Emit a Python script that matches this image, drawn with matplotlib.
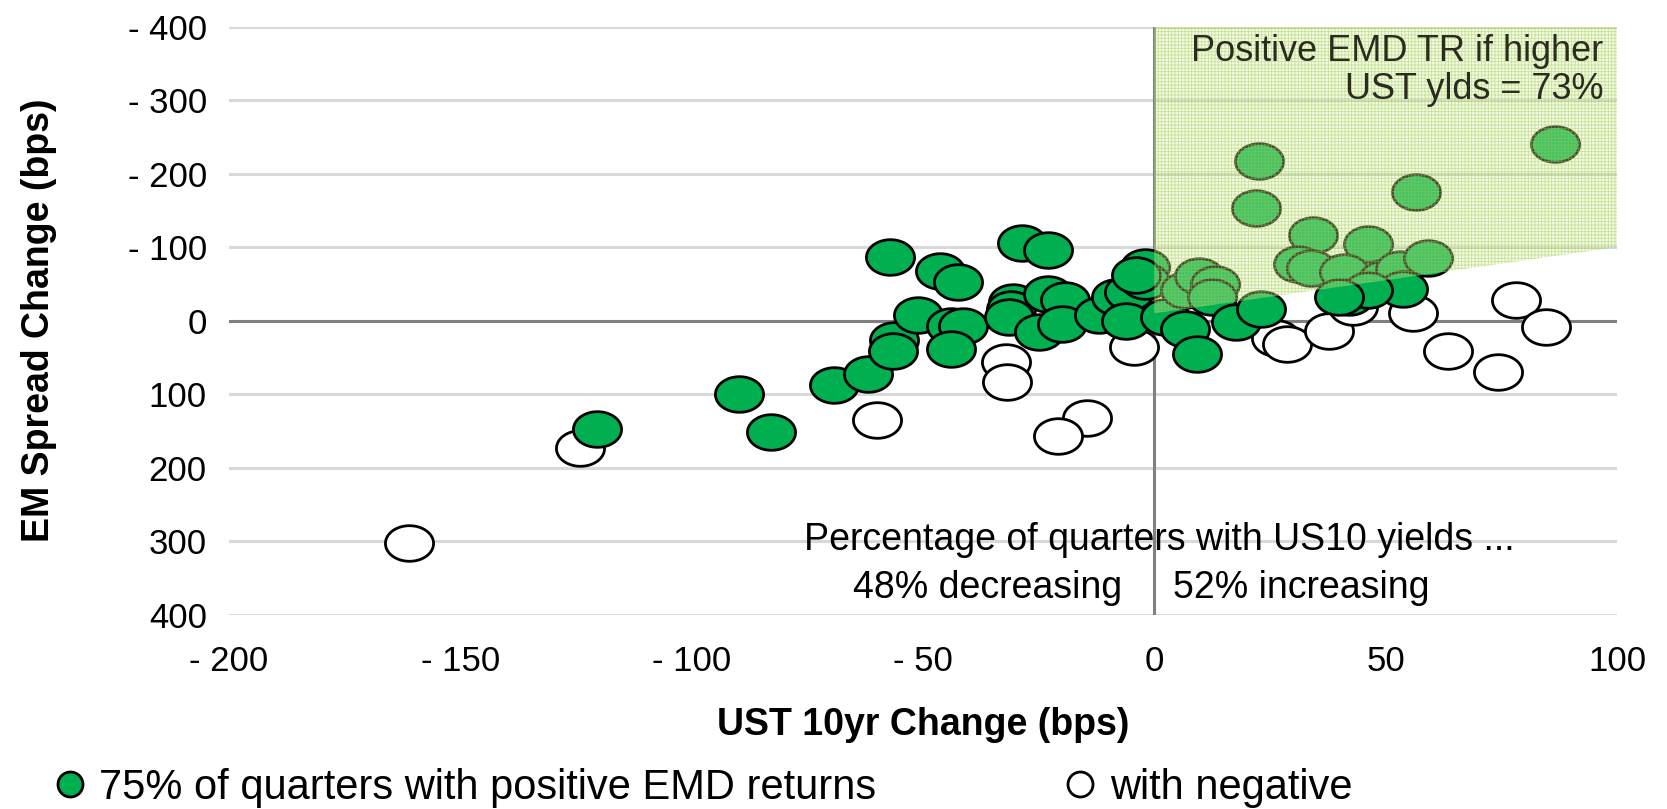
import numpy as np
import matplotlib
matplotlib.use("Agg")
import matplotlib.pyplot as plt
from matplotlib.path import Path
from matplotlib.lines import Line2D

plt.rcParams['font.family'] = ['Liberation Sans', 'DejaVu Sans']
plt.rcParams['hatch.linewidth'] = 0.6

# quarters with positive EMD returns (UST 10yr change, EM spread change), bps
pos_x = [-120.5, -89.7, -82.8, -69.2, -61.8, -56.3, -56.4,
         -57.2, -51.0, -46.4, -42.4, -44.0, -41.4, -44.0,
         -28.7, -23.0, -30.5, -31.0, -31.5, -23.0, -19.3, -25.0, -20.0,
         -12.0, -8.3, -5.4, -6.1, -2.0, -2.1, -4.0,
         2.4, 6.7, 9.6, 13.2, 12.5, 6.7, 9.2, 17.6, 23.0,
         22.6, 21.9, 34.2, 31.0, 33.8, 46.2, 41.1, 49.4, 53.0, 59.2,
         56.5, 86.5, 53.7, 42.0, 46.2, 40.0]
pos_y = [148, 100, 151, 88, 72, 27, 41,
         -86, -8, -67, -52, 7, 7, 38,
         -106, -96, -25, -16, -5, -36, -28, 16, 4.5,
         -8, -32, -39, 0, -73, -54, -62,
         -4.5, -41, -61, -50, -32, 11, 45, 2.3, -16,
         -217, -153, -116, -77, -72, -104, -66, -57, -70, -85,
         -175, -241, -43, -32, -41, -32]

# quarters with negative EMD returns
neg_x = [-161.0, -124.2, -60.0, -32.1, -31.8, -14.6, -20.8, -4.4,
         26.2, 28.7, 37.8, 42.9, 55.9, 78.2, 84.7, 63.4, 74.2]
neg_y = [303, 173, 135, 57, 84, 132, 157, 36,
         23, 32, 14, -18, -11, -28, 9, 42, 70]

# shaded "higher UST yields, positive EMD TR" region
region_x = [0, 100, 100, 0]
region_y = [-400, -400, -100, -10]

x_ticks = [-200, -150, -100, -50, 0, 50, 100]
y_ticks = [-400, -300, -200, -100, 0, 100, 200, 300, 400]

green = '#00b050'

# ellipse marker (wider than tall)
t = np.linspace(0, 2 * np.pi, 80)
ellipse = Path(np.column_stack([np.cos(t), 0.74 * np.sin(t)]), closed=True)

fig = plt.figure(figsize=(16.67, 8.09), dpi=100)
ax = fig.add_axes([0.1374, 0.2404, 0.970 - 0.1374, 0.967 - 0.2404])

ax.set_xlim(-200, 100)
ax.set_ylim(400, -400)
ax.set_xticks(x_ticks)
ax.set_yticks(y_ticks)
fmt = lambda v: f"- {abs(v)}" if v < 0 else f"{v}"
ax.set_xticklabels([fmt(v) for v in x_ticks], fontsize=25)
ax.set_yticklabels([fmt(v) for v in y_ticks], fontsize=25)
ax.tick_params(axis='both', length=0)
ax.tick_params(axis='x', pad=22)
ax.tick_params(axis='y', pad=16)
for s in ax.spines.values():
    s.set_visible(False)

ax.grid(axis='y', color='#d9d9d9', linewidth=2.2, zorder=0)
ax.set_axisbelow(True)
ax.axhline(0, color='#808080', linewidth=2.2, zorder=1)
ax.axvline(0, color='#808080', linewidth=2.2, zorder=1)

ax.scatter(neg_x, neg_y, s=1200, marker=ellipse, facecolor='white',
           edgecolor='black', linewidth=2.0, zorder=3)
ax.scatter(pos_x, pos_y, s=1200, marker=ellipse, facecolor=green,
           edgecolor='black', linewidth=2.0, zorder=4)

ax.fill(region_x, region_y, facecolor=(0.86, 0.94, 0.70, 0.30),
        edgecolor=(0.60, 0.80, 0.25, 0.50), hatch='+++++', linewidth=0,
        zorder=5)

ax.text(97, -366, 'Positive EMD TR if higher', ha='right', va='center',
        fontsize=26, color='#2b2b1f', zorder=6)
ax.text(97, -315, 'UST ylds = 73%', ha='right', va='center',
        fontsize=26, color='#2b2b1f', zorder=6)

ax.text(1, 298, 'Percentage of quarters with US10 yields ...', ha='center',
        va='center', fontsize=27, zorder=6)
ax.text(-7, 364, '48% decreasing', ha='right', va='center', fontsize=27,
        zorder=6)
ax.text(4, 364, '52% increasing', ha='left', va='center', fontsize=27,
        zorder=6)

ax.set_xlabel('UST 10yr Change (bps)', fontsize=27, fontweight='bold')
ax.set_ylabel('EM Spread Change (bps)', fontsize=27, fontweight='bold')
ax.xaxis.set_label_coords(0.5, -0.158)
ax.yaxis.set_label_coords(-0.124, 0.5)

handles = [Line2D([], [], marker='o', linestyle='none', markersize=18,
                  markerfacecolor=green, markeredgecolor='black',
                  markeredgewidth=2),
           Line2D([], [], marker='o', linestyle='none', markersize=18,
                  markerfacecolor='white', markeredgecolor='black',
                  markeredgewidth=2)]
fig.legend(handles, ['75% of quarters with positive EMD returns',
                     'with negative'],
           loc='center left', bbox_to_anchor=(0.012, 0.026), ncol=2,
           frameon=False, fontsize=30, handlelength=0.6,
           handletextpad=0.4, columnspacing=4.6)

fig.savefig('out.png', dpi=100)
